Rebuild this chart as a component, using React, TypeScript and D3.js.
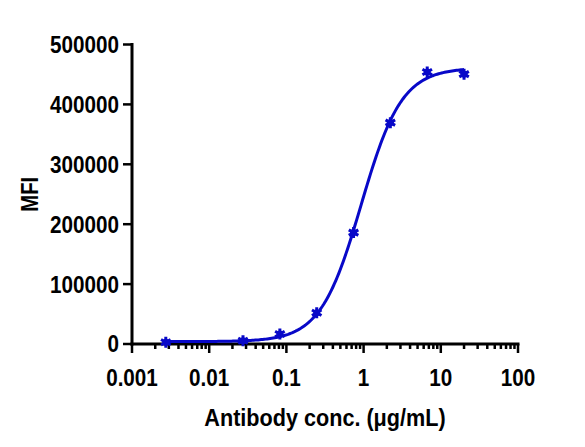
import React from "react";
import * as d3 from "d3";

const concentrations = [0.00274, 0.0274, 0.0823, 0.247, 0.741, 2.22, 6.67, 20];
const mfiValues = [3000, 5500, 16700, 52200, 186000, 369500, 454000, 450500];
const yTicks = [0, 100000, 200000, 300000, 400000, 500000];
const xTicks = [0.001, 0.01, 0.1, 1, 10, 100];
const xTickLabels = ["0.001", "0.01", "0.1", "1", "10", "100"];

// 4PL fit parameters
const fitBottom = 4000;
const fitTop = 461000;
const fitEC50 = 0.93;
const fitHill = 1.65;

const W = 585;
const H = 447;
const left = 132;
const right = 518;
const top = 44.5;
const bottom = 344;
const blue = "#0808c8";
const font = "'Liberation Sans', Arial, sans-serif";
const squeeze = 0.88;

export default function App() {
  const x = d3.scaleLog().domain([0.001, 100]).range([left, right]);
  const y = d3.scaleLinear().domain([0, 500000]).range([bottom, top]);

  const fourPL = (c: number) => fitBottom + (fitTop - fitBottom) / (1 + Math.pow(fitEC50 / c, fitHill));
  const lo = Math.log10(concentrations[0]);
  const hi = Math.log10(concentrations[concentrations.length - 1]);
  const curvePts: [number, number][] = d3.range(0, 201).map((i) => {
    const c = Math.pow(10, lo + ((hi - lo) * i) / 200);
    return [x(c), y(fourPL(c))];
  });
  const line = d3.line().curve(d3.curveLinear)(curvePts) || "";

  const minor: number[] = [];
  for (let e = -3; e < 2; e++) {
    for (let m = 2; m <= 9; m++) minor.push(m * Math.pow(10, e));
  }

  const star = d3.symbol().type(d3.symbolAsterisk).size(85)() || "";

  return (
    <svg width={W} height={H} style={{ position: "absolute", left: 0, top: 0, background: "#fff" }}>
      {/* axes */}
      <line x1={left} x2={left} y1={top - 1.5} y2={bottom + 1.5} stroke="#000" strokeWidth={3} />
      <line x1={left - 1.5} x2={right + 1.5} y1={bottom} y2={bottom} stroke="#000" strokeWidth={3} />
      {yTicks.map((t) => (
        <g key={"y" + t}>
          <line x1={left - 9} x2={left} y1={y(t)} y2={y(t)} stroke="#000" strokeWidth={2.5} />
          <text
            transform={`translate(${left - 13},${y(t)}) scale(${squeeze},1)`}
            dy="0.36em"
            textAnchor="end"
            fontFamily={font}
            fontWeight="bold"
            fontSize={23.5}
            fill="#000"
          >
            {t}
          </text>
        </g>
      ))}
      {minor.map((t, i) => (
        <line key={"m" + i} x1={x(t)} x2={x(t)} y1={bottom} y2={bottom + 5} stroke="#000" strokeWidth={2.5} />
      ))}
      {xTicks.map((t, i) => (
        <g key={"x" + t}>
          <line x1={x(t)} x2={x(t)} y1={bottom} y2={bottom + 9} stroke="#000" strokeWidth={2.5} />
          <text
            transform={`translate(${x(t)},386) scale(${squeeze},1)`}
            textAnchor="middle"
            fontFamily={font}
            fontWeight="bold"
            fontSize={23.5}
            fill="#000"
          >
            {xTickLabels[i]}
          </text>
        </g>
      ))}
      <text
        transform={`translate(${(left + right) / 2},426) scale(0.94,1)`}
        textAnchor="middle"
        fontFamily={font}
        fontWeight="bold"
        fontSize={23}
        fill="#000"
      >
        Antibody conc. (μg/mL)
      </text>
      <text
        transform={`translate(38, ${(top + bottom) / 2}) rotate(-90) scale(${squeeze},1)`}
        textAnchor="middle"
        fontFamily={font}
        fontWeight="bold"
        fontSize={23}
        fill="#000"
      >
        MFI
      </text>
      {/* curve */}
      <path d={line} fill="none" stroke={blue} strokeWidth={3} />
      {/* points */}
      {concentrations.map((c, i) => (
        <g key={"p" + i} transform={`translate(${x(c)},${y(mfiValues[i])})`}>
          <path d={star} fill="none" stroke={blue} strokeWidth={3} />
          <circle r={3.5} fill={blue} />
        </g>
      ))}
    </svg>
  );
}
